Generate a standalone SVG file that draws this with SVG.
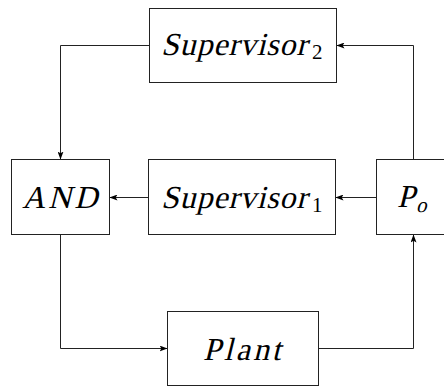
<svg xmlns="http://www.w3.org/2000/svg" width="444" height="387" viewBox="0 0 444 387">
  <defs>
    <marker id="arr" markerWidth="8" markerHeight="6" refX="7.5" refY="3" orient="auto" markerUnits="userSpaceOnUse">
      <path d="M0,0 L8,3 L0,6 L1.8,3 Z" fill="#000"/>
    </marker>
  </defs>
  <style>
    .box { fill: #fff; stroke: #222; stroke-width: 1; }
    .wire { fill: none; stroke: #222; stroke-width: 1; marker-end: url(#arr); }
  </style>

  <g id="connectors">
    <!-- Supervisor2 -> AND -->
    <path class="wire" d="M149,45.5 H60.5 V159"/>
    <!-- Po -> Supervisor2 -->
    <path class="wire" d="M413.5,159 V45.5 H337"/>
    <!-- Po -> Supervisor1 -->
    <path class="wire" d="M376,197.5 H336"/>
    <!-- Supervisor1 -> AND -->
    <path class="wire" d="M148,197.5 H110"/>
    <!-- AND -> Plant -->
    <path class="wire" d="M60.5,235 V348.5 H167"/>
    <!-- Plant -> Po -->
    <path class="wire" d="M318,348.5 H413.5 V235"/>
  </g>

  <!-- labels: upright serif slanted with skewX for a math-italic look -->
  <g id="supervisor2">
    <rect class="box" x="149.5" y="8.5" width="187" height="74"/>
    <g transform="translate(161,55) skewX(-14)">
      <text font-family="Liberation Serif" font-size="32" letter-spacing="0.8" x="0" y="0">Supervisor</text>
    </g>
    <text font-family="Liberation Serif" font-size="21" x="312" y="59">2</text>
  </g>

  <g id="and">
    <rect class="box" x="11.5" y="159.5" width="98" height="75"/>
    <g transform="translate(22,208) skewX(-14)">
      <text font-family="Liberation Serif" font-size="32" letter-spacing="3" x="0" y="0">AND</text>
    </g>
  </g>

  <g id="supervisor1">
    <rect class="box" x="148.5" y="159.5" width="187" height="75"/>
    <g transform="translate(161,208) skewX(-14)">
      <text font-family="Liberation Serif" font-size="32" letter-spacing="0.8" x="0" y="0">Supervisor</text>
    </g>
    <text font-family="Liberation Serif" font-size="21" x="312" y="212">1</text>
  </g>

  <g id="po">
    <rect class="box" x="376.5" y="159.5" width="70" height="75"/>
    <g transform="translate(397,207) skewX(-14)">
      <text font-family="Liberation Serif" font-size="32" x="0" y="0">P</text>
    </g>
    <g transform="translate(416,212) skewX(-14)">
      <text font-family="Liberation Serif" font-size="21" x="0" y="0">o</text>
    </g>
  </g>

  <g id="plant">
    <rect class="box" x="167.5" y="311.5" width="151" height="74"/>
    <g transform="translate(203,360) skewX(-14)">
      <text font-family="Liberation Serif" font-size="32" letter-spacing="3" x="0" y="0">Plant</text>
    </g>
  </g>
</svg>
